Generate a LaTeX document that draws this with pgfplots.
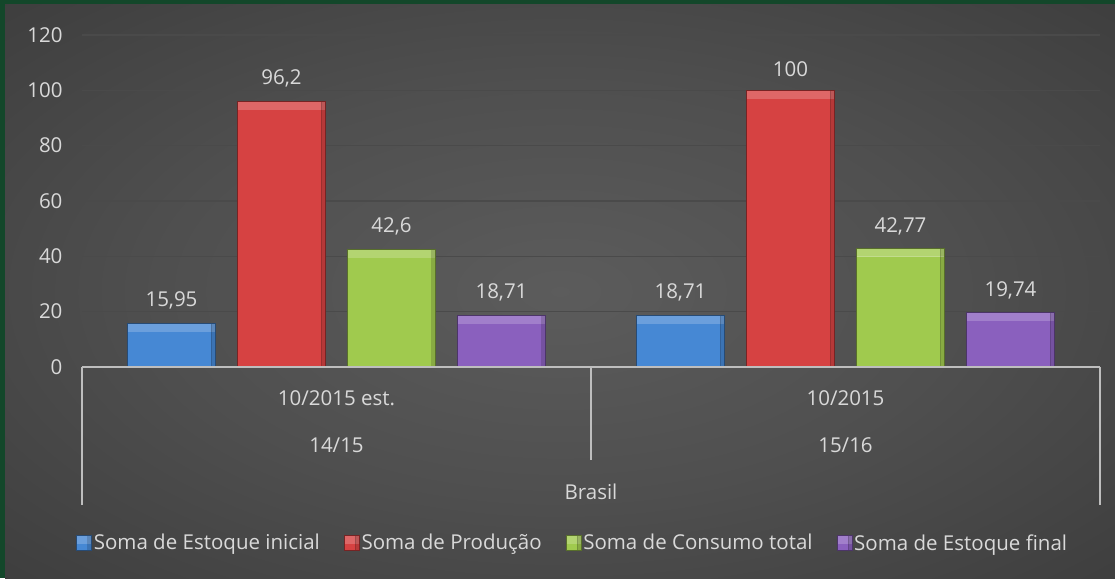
\documentclass[border=0pt]{standalone}
\usepackage{pgfplots}
\pgfplotsset{compat=1.18}
\usepackage{fontspec}
\setmainfont{Open Sans}
\definecolor{bordergreen}{RGB}{19,71,42}
\definecolor{txt}{RGB}{217,217,217}
\definecolor{gridc}{RGB}{74,74,74}
\definecolor{axisc}{RGB}{190,190,190}
\definecolor{cblue}{RGB}{70,136,212}
\definecolor{cred}{RGB}{214,66,66}
\definecolor{cgreen}{RGB}{160,202,78}
\definecolor{cpurple}{RGB}{138,96,190}
\pgfdeclareradialshading{bgshade}{\pgfpoint{0bp}{0bp}}{%
  rgb(0bp)=(0.36,0.36,0.36); rgb(18bp)=(0.31,0.31,0.31); rgb(42bp)=(0.22,0.22,0.22); rgb(70bp)=(0.14,0.14,0.14)}
\newcommand{\bigf}{\fontsize{20.5}{24}\selectfont}
\tikzset{bevel/.style={
  fill=#1, draw=black!45!#1, line width=0.6pt,
  postaction={path picture={
    \fill[white,opacity=0.2] (path picture bounding box.north west) rectangle ([yshift=-8pt]path picture bounding box.north east);
    \fill[black,opacity=0.15] ([xshift=-4pt]path picture bounding box.north east) rectangle (path picture bounding box.south east);
  }}}}
\begin{document}
\begin{tikzpicture}
\useasboundingbox (0,0) rectangle (1115pt,578pt);
\fill[bordergreen] (0,0) rectangle (1115pt,578pt);
\shade[shading=bgshade] (5pt,0) rectangle (1115pt,573pt);
\begin{axis}[
  at={(82pt,211pt)}, anchor=south west,
  scale only axis, width=1018pt, height=332pt,
  xmin=-0.5, xmax=1.5, ymin=0, ymax=120,
  ytick={0,20,...,120}, xtick=\empty,
  ymajorgrids, major grid style={gridc, line width=1.6pt},
  axis line style={draw=none},
  major tick length=0pt,
  yticklabel style={font=\bigf, text=txt, xshift=-16pt},
  /pgf/number format/assume math mode=true,
  ybar, bar width=88pt,
  clip=false,
  nodes near coords,
  nodes near coords style={font=\bigf, text=txt, yshift=10pt,
    /pgf/number format/.cd, fixed, precision=2, use comma, assume math mode=true},
  legend style={at={(0.482,-0.53)}, anchor=center, draw=none, fill=none,
    font=\bigf, text=txt, legend columns=4,
    /tikz/every even column/.append style={column sep=22pt}},
  legend image code/.code={\fill[#1] (0pt,-7pt) rectangle (15pt,8pt);},
]
\addplot[bevel=cblue, bar shift=-165pt] coordinates {(0,15.95)};
\addplot[bevel=cred, bar shift=-55pt] coordinates {(0,96.2)};
\addplot[bevel=cgreen, bar shift=55pt] coordinates {(0,42.6)};
\addplot[bevel=cpurple, bar shift=165pt] coordinates {(0,18.71)};
\legend{Soma de Estoque inicial, Soma de Produção, Soma de Consumo total, Soma de Estoque final}
\addplot[bevel=cblue, bar shift=-165pt, forget plot] coordinates {(1,18.71)};
\addplot[bevel=cred, bar shift=-55pt, forget plot] coordinates {(1,100)};
\addplot[bevel=cgreen, bar shift=55pt, forget plot] coordinates {(1,42.77)};
\addplot[bevel=cpurple, bar shift=165pt, forget plot] coordinates {(1,19.74)};
\draw[axisc, line width=1.6pt] (axis cs:-0.5,0) -- (axis cs:1.5,0);
\draw[axisc, line width=1.6pt] (axis cs:-0.5,0) -- ([yshift=-138pt]axis cs:-0.5,0);
\draw[axisc, line width=1.6pt] (axis cs:1.5,0) -- ([yshift=-138pt]axis cs:1.5,0);
\draw[axisc, line width=1.6pt] (axis cs:0.5,0) -- ([yshift=-93pt]axis cs:0.5,0);
\node[font=\bigf, text=txt] at ([yshift=-31pt]axis cs:0,0) {10/2015 est.};
\node[font=\bigf, text=txt] at ([yshift=-78pt]axis cs:0,0) {14/15};
\node[font=\bigf, text=txt] at ([yshift=-31pt]axis cs:1,0) {10/2015};
\node[font=\bigf, text=txt] at ([yshift=-78pt]axis cs:1,0) {15/16};
\node[font=\bigf, text=txt] at ([yshift=-125pt]axis cs:0.5,0) {Brasil};
\end{axis}
\end{tikzpicture}
\end{document}
